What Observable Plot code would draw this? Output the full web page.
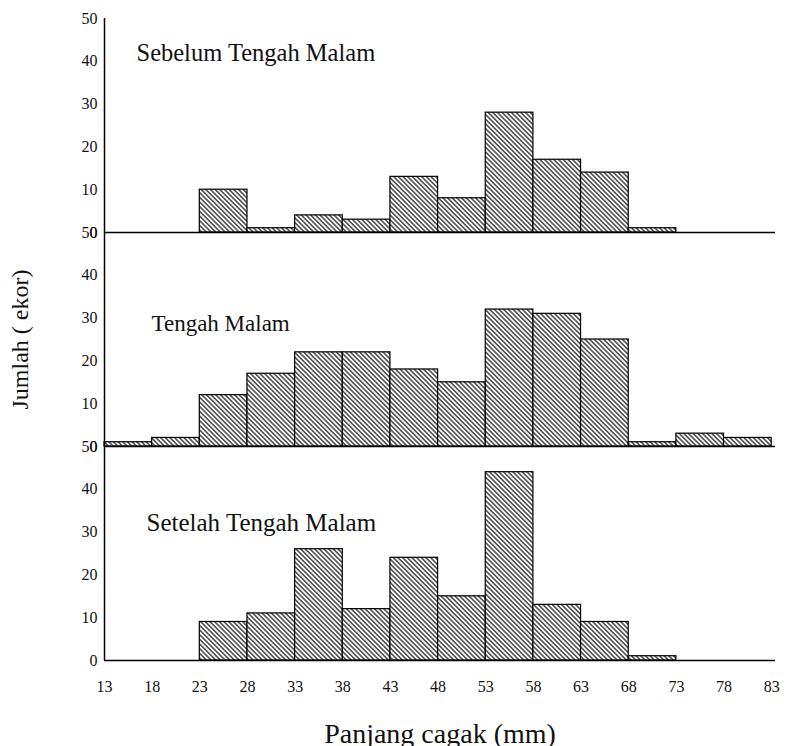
<!DOCTYPE html>
<html>
<head>
<meta charset="utf-8">
<script src="https://cdn.jsdelivr.net/npm/d3@7"></script>
<script src="https://cdn.jsdelivr.net/npm/@observablehq/plot@0.6"></script>
<style>
  html, body { margin: 0; padding: 0; background: white; }
  #chart svg, #chart svg text { font-family: "Liberation Serif", "Times New Roman", serif !important; }
</style>
</head>
<body>
<div id="chart"></div>
<script>
// ---- data ----
const binStarts = [13, 18, 23, 28, 33, 38, 43, 48, 53, 58, 63, 68, 73, 78];
const binWidth = 5;
const panels = ["Sebelum Tengah Malam", "Tengah Malam", "Setelah Tengah Malam"];
const sebelumCounts = [0, 0, 10, 1, 4, 3, 13, 8, 28, 17, 14, 1, 0, 0];
const tengahCounts  = [1, 2, 12, 17, 22, 22, 18, 15, 32, 31, 25, 1, 3, 2];
const setelahCounts = [0, 0, 9, 11, 26, 12, 24, 15, 44, 13, 9, 1, 0, 0];
const xTicks = [13, 18, 23, 28, 33, 38, 43, 48, 53, 58, 63, 68, 73, 78, 83];
const yTicks = [0, 10, 20, 30, 40, 50];
const xTitle = "Panjang cagak (mm)";
const yTitle = "Jumlah ( ekor)";

const seriesList = [sebelumCounts, tengahCounts, setelahCounts];
const rows = [];
panels.forEach((p, i) => {
  binStarts.forEach((s, j) => {
    const v = seriesList[i][j];
    if (v > 0) rows.push({panel: p, x1: s, x2: s + binWidth, count: v});
  });
});

const serif = "Liberation Serif, Times New Roman, serif";

const svg = Plot.plot({
  width: 787,
  height: 746,
  marginTop: 18,
  marginBottom: 86,
  marginLeft: 104,
  marginRight: 12,
  style: {fontFamily: serif, fontSize: "16px", color: "black", background: "white"},
  x: {domain: [binStarts[0], xTicks[xTicks.length - 1] + 0.4]},
  y: {domain: [0, 50]},
  fy: {domain: panels, axis: null, padding: 0},
  marks: [
    Plot.rectY(rows, {x1: "x1", x2: "x2", y: "count", fy: "panel", fill: "url(#hatch)", stroke: "black", strokeWidth: 1.2}),
    Plot.ruleY([0], {stroke: "black", strokeWidth: 1.5}),
    Plot.ruleX([binStarts[0]], {stroke: "black", strokeWidth: 1.5}),
    Plot.axisY({ticks: yTicks, tickSize: 0, tickPadding: 7, label: null, fontSize: 16, fontFamily: serif, fill: "#111"}),
    Plot.axisX({ticks: xTicks, tickSize: 0, tickPadding: 20, label: null, fontSize: 16, fontFamily: serif, fill: "#111", tickFormat: d => String(d)}),
    Plot.text([panels[0]], {fy: d => d, text: d => d, frameAnchor: "top-left", dx: 32, dy: 35, textAnchor: "start", lineAnchor: "middle", fontSize: 24.5, fontFamily: serif, fill: "#111"}),
    Plot.text([panels[1]], {fy: d => d, text: d => d, frameAnchor: "top-left", dx: 47, dy: 91, textAnchor: "start", lineAnchor: "middle", fontSize: 23, fontFamily: serif, fill: "#111"}),
    Plot.text([panels[2]], {fy: d => d, text: d => d, frameAnchor: "top-left", dx: 42, dy: 76, textAnchor: "start", lineAnchor: "middle", fontSize: 25, fontFamily: serif, fill: "#111"}),
    Plot.text([panels[1]], {fy: d => d, text: () => yTitle, frameAnchor: "left", dx: -84, rotate: -90, textAnchor: "middle", lineAnchor: "middle", fontSize: 24, fontFamily: serif, fill: "#111"}),
    Plot.text([panels[2]], {fy: d => d, text: () => xTitle, frameAnchor: "bottom", dy: 74, textAnchor: "middle", lineAnchor: "middle", fontSize: 28, fontFamily: serif, fill: "#111"})
  ]
});

const ns = "http://www.w3.org/2000/svg";
const defs = document.createElementNS(ns, "defs");
defs.innerHTML = `<pattern id="hatch" patternUnits="userSpaceOnUse" width="3.3" height="3.3" patternTransform="rotate(-45)">
  <rect width="3.3" height="3.3" fill="white"></rect>
  <line x1="1.65" y1="-1" x2="1.65" y2="5" stroke="black" stroke-width="1.1"></line>
</pattern>`;
svg.insertBefore(defs, svg.firstChild);
document.getElementById("chart").appendChild(svg);
</script>
</body>
</html>
